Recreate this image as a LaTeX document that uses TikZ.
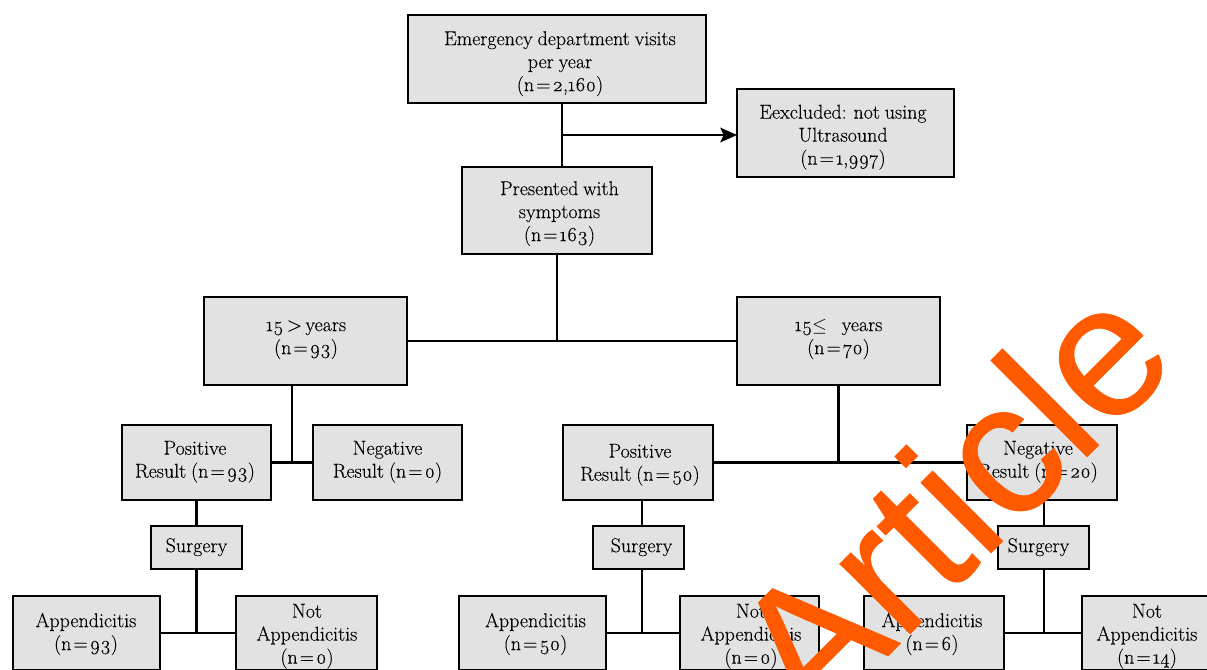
\documentclass[tikz,border=0pt]{standalone}
\usepackage{fontspec}
\setmainfont{Latin Modern Roman}[Numbers=OldStyle,WordSpace=0.8,FakeBold=0.12]
\newfontfamily\wmfont{Liberation Sans}[FakeBold=0.35]
\usetikzlibrary{arrows.meta,calc}
\definecolor{boxgray}{HTML}{E2E2E2}
\definecolor{wmorange}{HTML}{FF5A00}
% #1 horizontal nudge in px (right), #2 vertical nudge in px (down), #3 lines
\newcommand\bt[3]{\sbox0{\begin{tabular}{@{}c@{}}#3\end{tabular}}\hbox to 0pt{\vrule height\ht0 depth\dp0 width0pt\kern\dimexpr #1\dimexpr 1.5pt\relax\relax\hss\raisebox{\dimexpr -#2\dimexpr 0.75pt\relax\relax}[0pt][0pt]{\usebox0}\hss}}
\newcommand\nn[1]{(n\kern1.5pt=\kern1.5pt#1)}
\tikzset{
 flowbox/.style 2 args={draw=black,fill=boxgray,line width=1.4pt,minimum width=#1*0.75pt,minimum height=#2*0.75pt,inner sep=0pt,outer sep=0pt,font=\fontsize{15}{17.25}\selectfont},
 link/.style={draw=black,line width=1.6pt},
 watermark/.style={text=wmorange,font=\wmfont\fontsize{141}{141}\selectfont,rotate=45,inner sep=0pt,anchor=base}
}
\begin{document}
\begin{tikzpicture}[x=0.75pt,y=-0.75pt]
\useasboundingbox (0,0) rectangle (1207,669);
\clip (0,0) rectangle (1207,669);
\node[flowbox={298}{88}] (a) at (557,59) {\bt{3}{4.5}{Emergency department visits\\per year\\\nn{2,160}}};
\node[flowbox={217}{88}] (x) at (845.5,133) {\bt{-2.5}{4}{Eexcluded: not using\\Ultrasound\\\nn{1,997}}};
\node[flowbox={190}{87}] (b) at (557,210.5) {\bt{2.5}{3}{Presented with\\symptoms\\\nn{163}}};
\node[flowbox={203}{88}] (c) at (305.5,341) {\bt{0.5}{-3}{15\,>\,years\\\nn{93}}};
\node[flowbox={203}{88}] (d) at (838.5,341) {\bt{0}{-3}{15$\leq$\ \ \ years\\\nn{70}}};
\node[flowbox={149}{75}] (e) at (196.5,462.5) {\bt{-1.5}{-1}{Positive\\Result \nn{93}}};
\node[flowbox={149}{75}] (f) at (387.5,462.5) {\bt{0}{-1}{Negative\\Result \nn{0}}};
\node[flowbox={150}{75}] (g) at (638,462.5) {\bt{2}{2}{Positive\\Result \nn{50}}};
\node[flowbox={150}{75}] (h) at (1042,462.5) {\bt{-4}{-1}{Negative\\Result \nn{20}}};
\node[flowbox={91}{43}] (s1) at (196.5,547.5) {\bt{0}{0}{Surgery}};
\node[flowbox={91}{43}] (s2) at (638.5,547.5) {\bt{3}{0}{Surgery}};
\node[flowbox={91}{43}] (s3) at (1043.5,547.5) {\bt{-5}{0}{Surgery}};
\node[flowbox={147}{74}] (p1) at (86.5,633) {\bt{-0.5}{1}{Appendicitis\\\nn{93}}};
\node[flowbox={141}{74}] (q1) at (306.5,633) {\bt{0.5}{3}{Not\\Appendicitis\\\nn{0}}};
\node[flowbox={147}{74}] (p2) at (532.5,633) {\bt{3}{1}{Appendicitis\\\nn{50}}};
\node[flowbox={139}{74}] (q2) at (749.5,633) {\bt{1.5}{3}{Not\\Appendicitis\\\nn{0}}};
\node[flowbox={140}{74}] (p3) at (934,633) {\bt{-2}{1}{Appendicitis\\\nn{6}}};
\node[flowbox={130}{74}] (q3) at (1147,633) {\bt{0}{3}{Not\\Appendicitis\\\nn{14}}};
\coordinate (ab) at (562,135);
\coordinate (cs) at (292,400);
\coordinate (gs) at (642,520);
\coordinate (hs) at (1044,520);
\draw[link] (a.south -| ab) -- (b.north -| ab);
\draw[link,-{Stealth[length=12.5pt,width=11pt,inset=2.5pt]}] (ab) -- (ab -| x.west);
\draw[link] (b.south) -- (b.south |- c.east);
\draw[link] (c.east) -- (d.west);
\draw[link] (d.south) -- (d.south |- g.east);
\draw[link] (g.east) -- (h.west);
\draw[link] (c.south -| cs) -- (cs |- e.east);
\draw[link] (e.east) -- (f.west);
\draw[link] (e.south) -- (s1.north);
\draw[link] (s1.south) -- (s1.south |- p1.east);
\draw[link] (p1.east) -- (q1.west);
\draw[link] (g.south -| gs) -- (s2.north -| gs);
\draw[link] (s2.south -| gs) -- (gs |- p2.east);
\draw[link] (p2.east) -- (q2.west);
\draw[link] (h.south -| hs) -- (s3.north -| hs);
\draw[link] (s3.south -| hs) -- (hs |- p3.east);
\draw[link] (p3.east) -- (q3.west);
\node[watermark] (wm) at (997,547) {Article};
\end{tikzpicture}
\end{document}
